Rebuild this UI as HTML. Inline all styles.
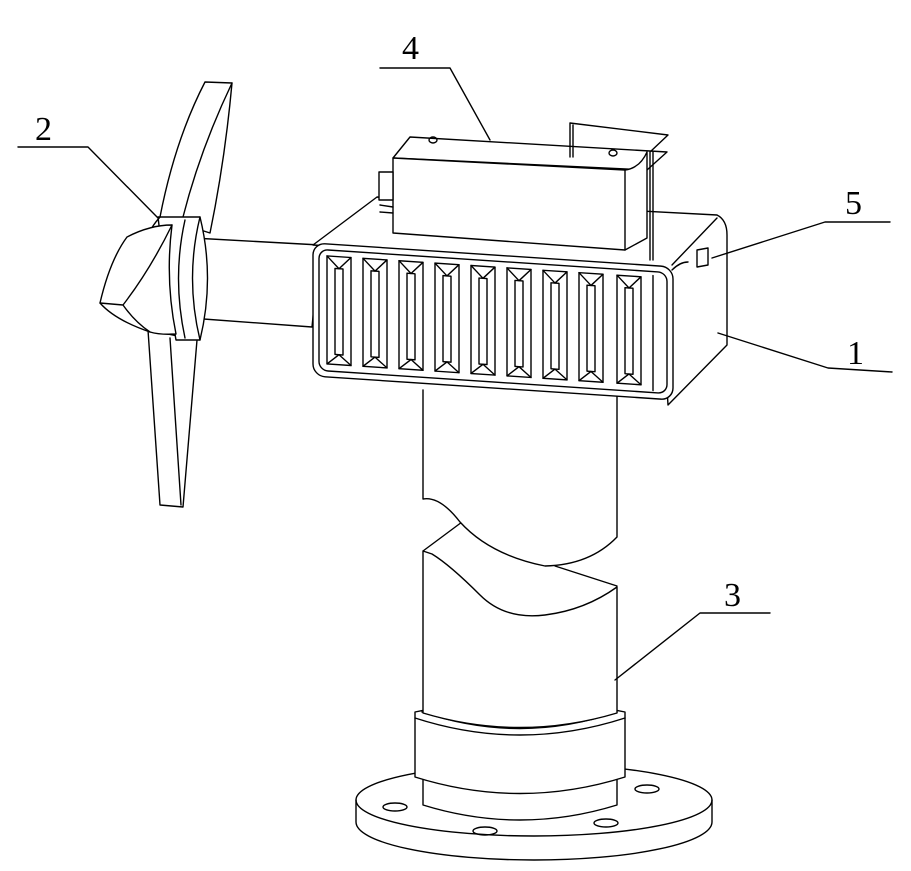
<!DOCTYPE html>
<html><head><meta charset="utf-8"><style>
html,body{margin:0;padding:0;background:#fff;}
svg{display:block}
text{font-family:"Liberation Serif",serif;font-size:34px;fill:#000}
</style></head><body>
<svg width="911" height="871" viewBox="0 0 911 871" xmlns="http://www.w3.org/2000/svg">
<g fill="none" stroke="#000" stroke-width="1.4" stroke-linejoin="round" stroke-linecap="round">

<!-- Flange base -->
<path d="M356,800 A178,36 0 0 1 712,800 L712,822 A178,38 0 0 1 356,822 Z" fill="#fff"/>
<path d="M356,800 A178,36 0 0 0 712,800"/>
<ellipse cx="395" cy="807" rx="12" ry="4"/>
<ellipse cx="485" cy="831" rx="12" ry="4"/>
<ellipse cx="606" cy="823" rx="12" ry="4"/>
<ellipse cx="647" cy="789" rx="12" ry="4"/>
<!-- inner cylinder under collar -->
<path d="M423,777 L423,805 Q520,835 617,805 L617,777" fill="#fff"/>
<!-- collar -->
<path d="M415,712 Q520,690 625,712 L625,777 Q520,810 415,777 Z" fill="#fff"/>
<path d="M415,718 Q520,752 625,718"/>
<path d="M422,712 Q520,745 617,712"/>

<!-- lower pole piece -->
<path d="M423,551 L462,522 M423,551 L423,713 Q520,742 617,713 L617,587 Q585,610 545,615 Q505,620 480,595 Q450,565 432,554 Z" fill="#fff"/>
<path d="M555,566 L617,586"/>
<!-- upper pole piece -->
<path d="M423,390 L423,499 Q440,496 460,522 Q490,555 545,566 Q590,565 617,537 L617,390" fill="#fff"/>

<!-- Turbine shaft -->
<path d="M193,238 L320,245 L312,327 L190,318" fill="#fff"/>
<!-- lower blade -->
<path d="M148,330 L160,505 L183,507 L197,340 Z" fill="#fff"/>
<path d="M170,338 L181,505"/>
<!-- upper blade -->
<path d="M160,217 Q175,140 205,82 L232,83 Q225,160 210,233 Z" fill="#fff"/>
<path d="M232,83 Q200,150 183,217"/>
<!-- hub ring -->
<path d="M158,217 L200,217 Q215,278 200,340 L176,340 Q165,278 158,217 Z" fill="#fff"/>
<path d="M200,217 Q185,278 200,340 M185,220 Q172,278 185,338"/>
<path d="M160,217 Q152,226 150,232"/>
<!-- spinner -->
<path d="M100,303 Q110,260 127,237 Q150,225 172,225 Q165,280 176,334 Q160,335 150,332 Q115,320 100,303 Z" fill="#fff"/>
<path d="M100,303 L123,305 Q150,270 172,225 M123,305 Q135,322 150,332"/>

<!-- Box right side & top -->
<path d="M313,245 L377,197 L717,215 Q727,220 727,235 L727,345 L668,405 L660,267 Z" fill="#fff"/>
<path d="M672,265 L717,218 M672,270 Q680,262 688,262"/>
<!-- front face -->
<g transform="translate(313,243) skewY(3.8)">
<rect x="0" y="0" width="360" height="133" rx="12" fill="#fff"/>
<rect x="6" y="6" width="348" height="121" rx="9"/>
<g id="s">
<rect x="14" y="12" width="24" height="108"/>
<path d="M14,12 L26,24 L38,12 M14,120 L26,110 L38,120"/>
<rect x="22" y="24" width="8" height="86"/>
</g>
<use href="#s" x="36"/><use href="#s" x="72"/><use href="#s" x="108"/><use href="#s" x="144"/>
<use href="#s" x="180"/><use href="#s" x="216"/><use href="#s" x="252"/><use href="#s" x="290"/>
<path d="M340,10 L340,125"/>
</g>
<!-- knob 5 -->
<path d="M697,250 L708,248 L708,265 L697,267 Z" fill="#fff"/>

<!-- Battery box 4 -->
<path d="M393,158 L410,137 L667,152 L647,170 Z" fill="#fff"/>
<path d="M393,158 L625,170 Q640,168 647,152 L647,238 L625,250 L393,233 Z" fill="#fff"/>
<path d="M625,170 L625,250"/>
<rect x="379" y="172" width="14" height="28" fill="#fff"/>
<path d="M380,205 L393,207 M380,212 L393,213"/>
<ellipse cx="433" cy="140" rx="4" ry="3"/>
<ellipse cx="613" cy="153" rx="4" ry="3"/>
<!-- handle -->
<path d="M570,157 L570,123 L668,135 L650,152 L650,260"/>
<path d="M573,157 L573,125 M653,152 L653,260"/>

<!-- leaders -->
<path d="M380,68 L450,68 L490,140"/>
<path d="M18,147 L88,147 L158,218"/>
<path d="M890,222 L825,222 L712,258"/>
<path d="M892,372 L828,368 L718,333"/>
<path d="M770,613 L700,613 L615,680"/>
</g>
<text x="402" y="59">4</text>
<text x="35" y="140">2</text>
<text x="845" y="214">5</text>
<text x="847" y="364">1</text>
<text x="724" y="606">3</text>
</svg>
</body></html>
